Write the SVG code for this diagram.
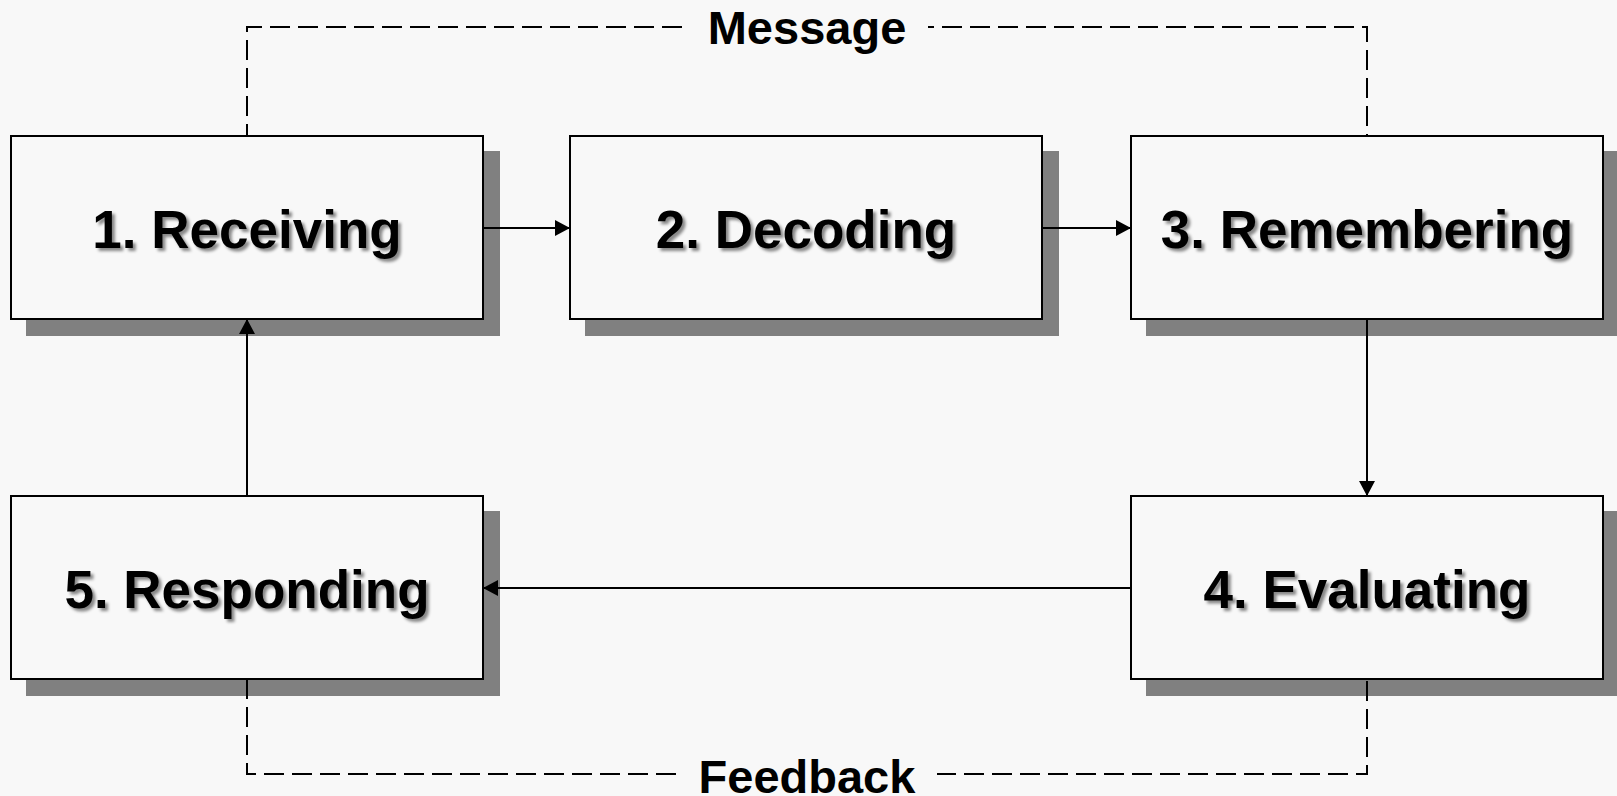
<svg xmlns="http://www.w3.org/2000/svg" width="1617" height="796" viewBox="0 0 1617 796">
<defs>
<style>
.shadow{fill:#808080}
.box{fill:#f8f8f8;stroke:#000;stroke-width:2}
.lbl{font-family:"Liberation Sans",Arial,sans-serif;font-weight:bold;font-size:53px;fill:#000;text-anchor:middle;filter:url(#ts)}
.edge-lbl{font-family:"Liberation Sans",Arial,sans-serif;font-weight:bold;font-size:47px;fill:#000;text-anchor:middle}
.solid{fill:none;stroke:#000;stroke-width:2}
.dash{fill:none;stroke:#000;stroke-width:2;stroke-dasharray:20 8}
.bg{fill:#f8f8f8}
</style>
<filter id="ts" x="-10%" y="-30%" width="120%" height="160%">
<feDropShadow dx="3" dy="3" stdDeviation="1.6" flood-color="#000" flood-opacity="0.45"/>
</filter>
<marker id="arr" viewBox="0 0 15 16" refX="15" refY="8" markerWidth="15" markerHeight="16" markerUnits="userSpaceOnUse" orient="auto">
<path d="M0,0 L15,8 L0,16 Z" fill="#000"/>
</marker>
</defs>
<rect width="1617" height="796" fill="#f8f8f8"/>
<g id="node1">
<rect class="shadow" x="26" y="151" width="474" height="185"/>
<rect class="box" x="11" y="136" width="472" height="183"/>
<text class="lbl" x="247" y="248">1. Receiving</text>
</g>
<g id="node2">
<rect class="shadow" x="585" y="151" width="474" height="185"/>
<rect class="box" x="570" y="136" width="472" height="183"/>
<text class="lbl" x="806" y="248">2. Decoding</text>
</g>
<g id="node3">
<rect class="shadow" x="1146" y="151" width="474" height="185"/>
<rect class="box" x="1131" y="136" width="472" height="183"/>
<text class="lbl" x="1367" y="248">3. Remembering</text>
</g>
<g id="node4">
<rect class="shadow" x="1146" y="511" width="474" height="185"/>
<rect class="box" x="1131" y="496" width="472" height="183"/>
<text class="lbl" x="1367" y="608">4. Evaluating</text>
</g>
<g id="node5">
<rect class="shadow" x="26" y="511" width="474" height="185"/>
<rect class="box" x="11" y="496" width="472" height="183"/>
<text class="lbl" x="247" y="608">5. Responding</text>
</g>
<g id="connectors">
<path class="solid" d="M483,228 L570,228" marker-end="url(#arr)"/>
<path class="solid" d="M1042,228 L1131,228" marker-end="url(#arr)"/>
<path class="solid" d="M1367,319 L1367,496" marker-end="url(#arr)"/>
<path class="solid" d="M1131,588 L483,588" marker-end="url(#arr)"/>
<path class="solid" d="M247,496 L247,319" marker-end="url(#arr)"/>
<path class="dash" style="stroke-dashoffset:8" d="M247,136 L247,27 L1367,27 L1367,136"/>
<path class="dash" d="M247,679 L247,774 L1367,774 L1367,679"/>
<g id="label-message">
<rect class="bg" x="686" y="5" width="242" height="44"/>
<text class="edge-lbl" x="807" y="44">Message</text>
</g>
<g id="label-feedback">
<rect class="bg" x="677" y="752" width="260" height="44"/>
<text class="edge-lbl" x="807" y="793">Feedback</text>
</g>
</g>
</svg>
